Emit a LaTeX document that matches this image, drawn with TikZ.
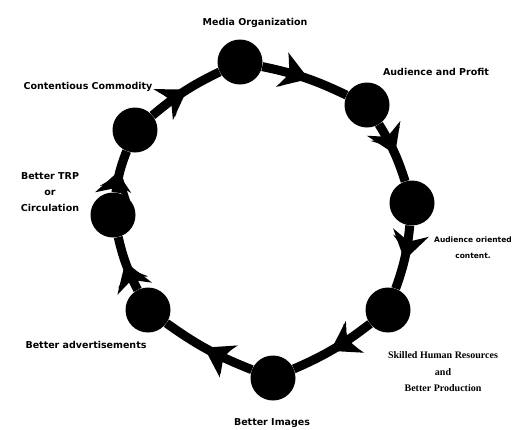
\documentclass[tikz,border=0pt]{standalone}
\usepackage{fontspec}
\setmainfont{DejaVu Sans}
\newfontfamily\serifx{Liberation Serif}
\usetikzlibrary{arrows.meta,decorations.markings}
\begin{document}
\begin{tikzpicture}[x=1pt,y=-1pt,
  hub/.style={circle,fill=black,minimum size=45pt,inner sep=0pt},
  lbl/.style={font=\fontsize{9.5}{16}\selectfont\bfseries, inner sep=0pt, align=center},
  lbls/.style={font=\fontsize{7.5}{16}\selectfont\bfseries, inner sep=0pt, align=center},
  lblr/.style={font=\fontsize{10}{16.5}\selectfont\serifx\bfseries, inner sep=0pt, align=center},
  link/.style={line width=9pt, bend left=7, postaction={decorate},
    decoration={markings,
      mark=at position 0.54 with {\arrow{Stealth[length=28pt,width=36pt,inset=9pt]}},
      mark=at position 0.42 with {\arrow{Stealth[length=15pt,width=32pt,inset=5pt]}}}}]
\useasboundingbox (0,0) rectangle (528,429);
\node[hub] (mo) at (240,62) {};
\node[hub] (ap) at (367,105) {};
\node[hub] (ao) at (412,203) {};
\node[hub] (sk) at (388,310) {};
\node[hub] (bi) at (273,378) {};
\node[hub] (ba) at (148,310) {};
\node[hub] (bt) at (113,215) {};
\node[hub] (cc) at (135,130) {};
\draw[link] (mo) to (ap);
\draw[link] (ap) to (ao);
\draw[link] (ao) to (sk);
\draw[link] (sk) to (bi);
\draw[link] (bi) to (ba);
\draw[link] (ba) to (bt);
\draw[link] (bt) to (cc);
\draw[link] (cc) to (mo);
\node[lbl] (tmo) at (255,23) {Media Organization};
\node[lbl] (tap) at (436,72) {Audience and Profit};
\node[lbls] (tao) at (473,248) {Audience oriented\\content.};
\node[lblr] (tsk) at (443,372) {Skilled Human Resources\\and\\Better Production};
\node[lbl] (tbi) at (272,423) {Better Images};
\node[lbl] (tba) at (86,345) {Better advertisements};
\node[lbl] (tbt) at (50,192) {Better TRP\\or\\Circulation};
\node[lbl] (tcc) at (88,87) {Contentious Commodity};
\end{tikzpicture}
\end{document}
